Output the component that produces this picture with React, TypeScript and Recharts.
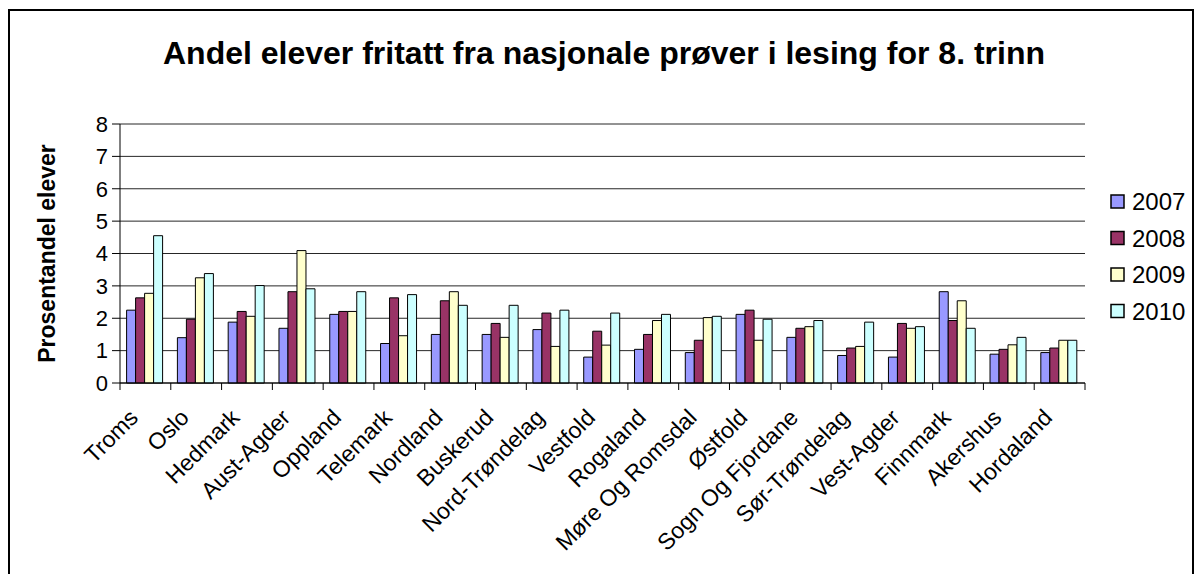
import React from 'react'
import { BarChart, Bar, XAxis, YAxis, CartesianGrid } from 'recharts'

const counties = [
  'Troms', 'Oslo', 'Hedmark', 'Aust-Agder', 'Oppland', 'Telemark', 'Nordland',
  'Buskerud', 'Nord-Trøndelag', 'Vestfold', 'Rogaland', 'Møre Og Romsdal',
  'Østfold', 'Sogn Og Fjordane', 'Sør-Trøndelag', 'Vest-Agder', 'Finnmark',
  'Akershus', 'Hordaland',
]
const y2007 = [2.25, 1.4, 1.88, 1.69, 2.12, 1.22, 1.5, 1.5, 1.65, 0.8, 1.04, 0.94, 2.12, 1.41, 0.85, 0.8, 2.82, 0.89, 0.94]
const y2008 = [2.63, 1.97, 2.21, 2.82, 2.21, 2.63, 2.54, 1.84, 2.16, 1.6, 1.5, 1.32, 2.25, 1.69, 1.08, 1.84, 1.93, 1.04, 1.08]
const y2009 = [2.77, 3.25, 2.06, 4.09, 2.21, 1.46, 2.82, 1.41, 1.13, 1.17, 1.93, 2.02, 1.32, 1.74, 1.13, 1.69, 2.54, 1.18, 1.32]
const y2010 = [4.55, 3.38, 3.01, 2.91, 2.82, 2.73, 2.4, 2.4, 2.25, 2.16, 2.12, 2.06, 1.97, 1.93, 1.88, 1.74, 1.69, 1.41, 1.32]
const yTicks = [0, 1, 2, 3, 4, 5, 6, 7, 8]

const series = [
  { key: 'y2007', name: '2007', color: '#9999FF' },
  { key: 'y2008', name: '2008', color: '#993366' },
  { key: 'y2009', name: '2009', color: '#FFFFCC' },
  { key: 'y2010', name: '2010', color: '#CCFFFF' },
]

const data = counties.map((c, i) => ({
  county: c,
  y2007: y2007[i],
  y2008: y2008[i],
  y2009: y2009[i],
  y2010: y2010[i],
}))

const FONT = 'Arial, "Liberation Sans", sans-serif'
const PLOT_LEFT = 120
const PLOT_RIGHT = 1085
const PLOT_TOP = 124
const PLOT_BOTTOM = 383
const BAND = (PLOT_RIGHT - PLOT_LEFT) / counties.length

function CountyTick(props: any) {
  const { x, y, payload, index } = props
  const left = x - BAND / 2
  return (
    <g>
      <line x1={left} y1={y - 8} x2={left} y2={y - 1} stroke="#000" />
      {index === counties.length - 1 && (
        <line x1={left + BAND} y1={y - 8} x2={left + BAND} y2={y - 1} stroke="#000" />
      )}
      <text
        transform={`translate(${x - 6},${y + 28}) rotate(-45)`}
        textAnchor="end"
        fontSize={23}
        fontFamily={FONT}
        fill="#000"
      >
        {payload.value}
      </text>
    </g>
  )
}

export default function App() {
  return (
    <div style={{ position: 'absolute', left: 0, top: 0, width: 1194, height: 574, background: '#fff', overflow: 'hidden' }}>
      <div
        style={{
          position: 'absolute', left: 8, top: 9, width: 1186, height: 600,
          border: '2px solid #000', boxSizing: 'border-box',
        }}
      />
      <BarChart
        width={1194}
        height={574}
        data={data}
        margin={{ top: PLOT_TOP, right: 1194 - PLOT_RIGHT, bottom: 0, left: 20 }}
        barCategoryGap="13%"
        barGap={0}
        style={{ position: 'absolute', left: 0, top: 0 }}
      >
        <CartesianGrid vertical={false} stroke="#000" strokeOpacity={0.85} />
        <XAxis
          dataKey="county"
          interval={0}
          height={574 - PLOT_BOTTOM}
          tickLine={false}
          axisLine={{ stroke: '#000' }}
          tick={<CountyTick />}
        />
        <YAxis
          width={PLOT_LEFT - 20}
          domain={[0, 8]}
          ticks={yTicks}
          interval={0}
          tickSize={8}
          tickLine={{ stroke: '#000' }}
          axisLine={{ stroke: '#000' }}
          tick={{ fill: '#000', fontSize: 22, fontFamily: FONT }}
          tickMargin={4}
        />
        {series.map((s) => (
          <Bar
            key={s.key}
            dataKey={s.key}
            name={s.name}
            fill={s.color}
            stroke="#000"
            strokeWidth={1}
            isAnimationActive={false}
          />
        ))}
      </BarChart>
      <svg width={1194} height={574} style={{ position: 'absolute', left: 0, top: 0, pointerEvents: 'none' }}>
        <text x={604} y={64} textAnchor="middle" fontSize={32} fontWeight="bold" fontFamily={FONT} fill="#000">
          Andel elever fritatt fra nasjonale prøver i lesing for 8. trinn
        </text>
        <text
          transform={`translate(55,${(PLOT_TOP + PLOT_BOTTOM) / 2}) rotate(-90)`}
          textAnchor="middle"
          fontSize={23}
          fontWeight="bold"
          fontFamily={FONT}
          fill="#000"
        >
          Prosentandel elever
        </text>
        {series.map((s, i) => (
          <g key={s.key}>
            <rect x={1111} y={195 + i * 36.5} width={13} height={13} fill={s.color} stroke="#000" strokeWidth={1.5} />
            <text x={1132} y={210 + i * 36.5} fontSize={24} fontFamily={FONT} fill="#000">
              {s.name}
            </text>
          </g>
        ))}
      </svg>
    </div>
  )
}
